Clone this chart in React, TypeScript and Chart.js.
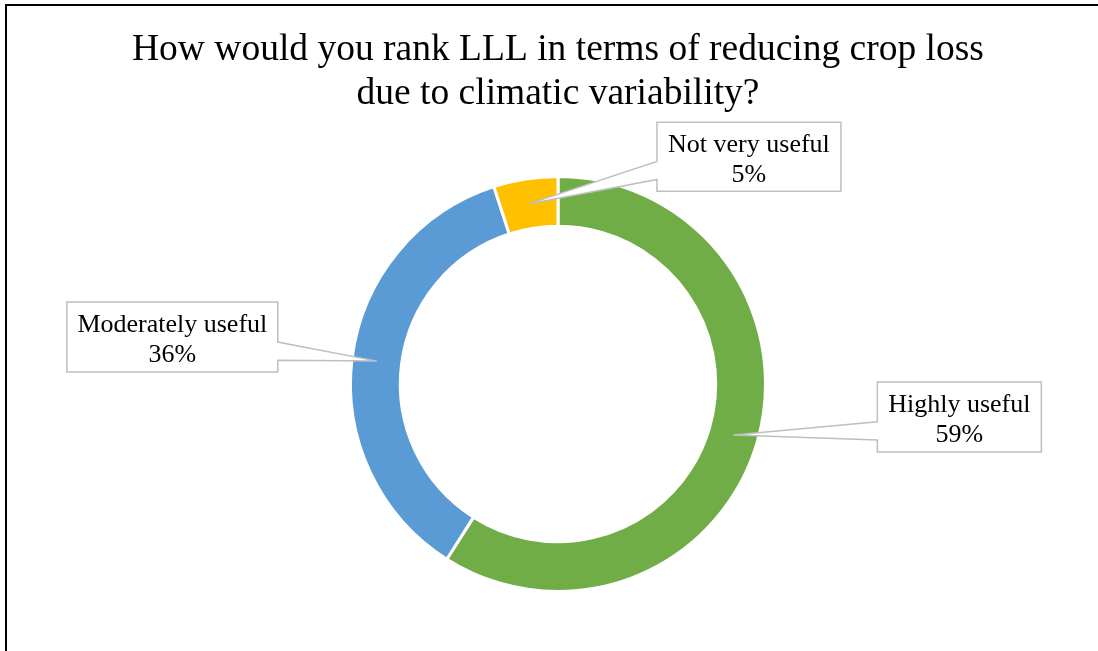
import React, { useEffect, useRef } from "react";
import { Chart, registerables } from "chart.js";

Chart.register(...registerables);

const titleLines = ["How would you rank LLL in terms of reducing crop loss", "due to climatic variability?"];
const categories = ["Highly useful", "Moderately useful", "Not very useful"];
const values = [59, 36, 5];
const colors = ["#70AD47", "#5B9BD5", "#FFC000"];
// label box offsets from the slice anchor (dx, dy, width, height)
const labelBoxes = [
  { dx: 226, dy: -18, w: 164, h: 70 },
  { dx: -204.5, dy: -24, w: 211, h: 70 },
  { dx: 219.5, dy: -47, w: 184, h: 69 },
];

const SERIF = '"Liberation Serif", "Times New Roman", serif';

const decorPlugin = {
  id: "decor",
  beforeDraw(chart: any) {
    const ctx = chart.ctx;
    ctx.save();
    ctx.fillStyle = "#ffffff";
    ctx.fillRect(0, 0, chart.width, chart.height);
    ctx.fillStyle = "#000000";
    ctx.fillRect(5, 4, chart.width - 5, 2);
    ctx.fillRect(5, 4, 2, chart.height - 4);
    ctx.fillStyle = "#000000";
    ctx.font = `37.5px ${SERIF}`;
    ctx.textAlign = "center";
    ctx.textBaseline = "alphabetic";
    titleLines.forEach((t, i) => ctx.fillText(t, 558, 60 + i * 44));
    ctx.restore();
  },
  afterDatasetsDraw(chart: any) {
    const ctx = chart.ctx;
    const meta = chart.getDatasetMeta(0);
    const total = values.reduce((a, b) => a + b, 0);
    ctx.save();
    meta.data.forEach((arc: any, i: number) => {
      const p = arc.tooltipPosition();
      const b = labelBoxes[i];
      const cx = p.x + b.dx;
      const cy = p.y + b.dy;
      const x0 = cx - b.w / 2;
      const x1 = cx + b.w / 2;
      const y0 = cy - b.h / 2;
      const y1 = cy + b.h / 2;
      const t1 = y0 + b.h * 0.57;
      const t2 = y0 + b.h * 0.83;
      ctx.beginPath();
      if (p.x < x0) {
        ctx.moveTo(x0, y0);
        ctx.lineTo(x1, y0);
        ctx.lineTo(x1, y1);
        ctx.lineTo(x0, y1);
        ctx.lineTo(x0, t2);
        ctx.lineTo(p.x, p.y);
        ctx.lineTo(x0, t1);
      } else {
        ctx.moveTo(x0, y0);
        ctx.lineTo(x1, y0);
        ctx.lineTo(x1, t1);
        ctx.lineTo(p.x, p.y);
        ctx.lineTo(x1, t2);
        ctx.lineTo(x1, y1);
        ctx.lineTo(x0, y1);
      }
      ctx.closePath();
      ctx.fillStyle = "#ffffff";
      ctx.fill();
      ctx.strokeStyle = "#BFBFBF";
      ctx.lineWidth = 1.5;
      ctx.stroke();
      ctx.fillStyle = "#000000";
      ctx.font = `26px ${SERIF}`;
      ctx.textAlign = "center";
      ctx.textBaseline = "alphabetic";
      const pct = Math.round((values[i] / total) * 100) + "%";
      ctx.fillText(categories[i], cx, cy - 5);
      ctx.fillText(pct, cx, cy + 25);
    });
    ctx.restore();
  },
};

export default function App() {
  const ref = useRef<HTMLCanvasElement>(null);
  useEffect(() => {
    if (!ref.current) return;
    const chart = new Chart(ref.current, {
      type: "doughnut",
      data: {
        labels: categories,
        datasets: [
          {
            data: values,
            backgroundColor: colors,
            borderColor: "#ffffff",
            borderWidth: 3,
          },
        ],
      },
      options: {
        responsive: false,
        animation: false,
        cutout: "76%",
        layout: { padding: { top: 175, bottom: 58, left: 349, right: 331 } },
        plugins: {
          legend: { display: false },
          tooltip: { enabled: false },
          title: { display: false },
        },
      },
      plugins: [decorPlugin],
    } as any);
    return () => chart.destroy();
  }, []);
  return (
    <div style={{ position: "absolute", left: 0, top: 0, width: 1098, height: 651 }}>
      <canvas ref={ref} width={1098} height={651} style={{ width: 1098, height: 651 }} />
    </div>
  );
}
